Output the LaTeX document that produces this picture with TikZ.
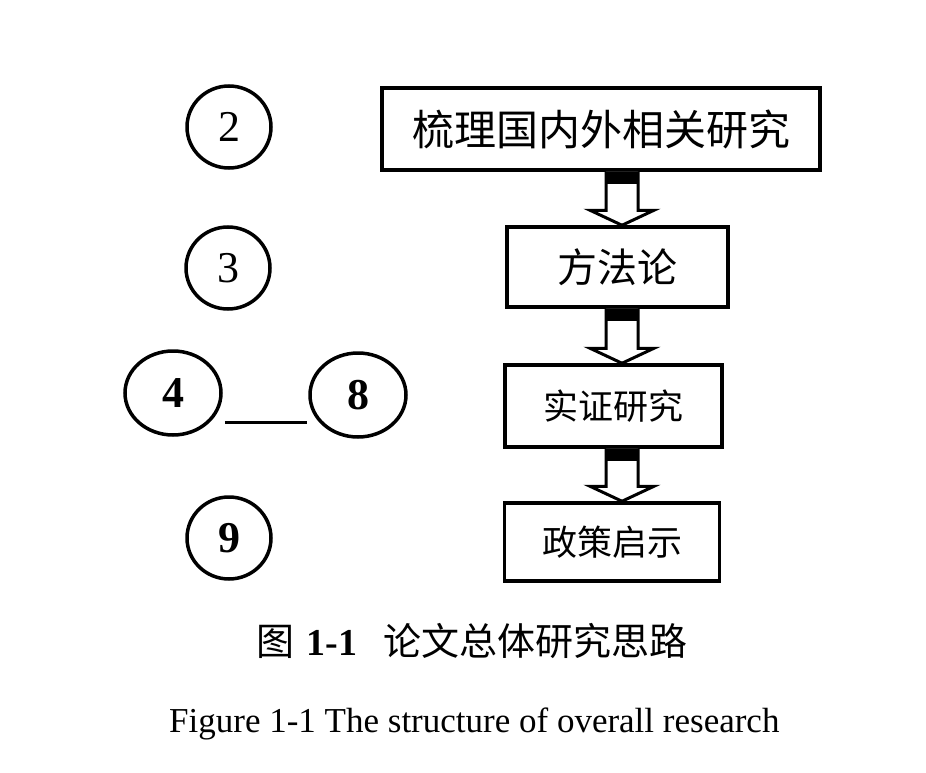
\documentclass[tikz,border=0pt]{standalone}
\usepackage{fontspec}
\setmainfont{Liberation Serif}
\newfontfamily\cjk{Noto Sans CJK SC}
\usetikzlibrary{shapes.geometric,calc}
\tikzset{
  box/.style={draw, line width=3.5pt, inner sep=0pt},
  num/.style={draw, ellipse, line width=3.5pt, inner sep=0pt,
    minimum width=84pt, minimum height=82pt, font=\fontsize{44}{44}\selectfont},
  bignum/.style={num, minimum width=96pt, minimum height=84pt, font=\fontsize{44}{44}\selectfont\bfseries}
}
\begin{document}
\begin{tikzpicture}[x=1pt, y=-1pt]
  \useasboundingbox (0,0) rectangle (926,773);
  % left column
  \node[num] (n2) at (229,127) {2};
  \node[num] (n3) at (228,268) {3};
  \node[bignum] (n4) at (173,393) {4};
  \node[bignum] (n8) at (358,395) {8};
  \node[num, font=\fontsize{44}{44}\selectfont\bfseries] (n9) at (229,538) {9};
  \draw[line width=3pt] ([xshift=2pt, yshift=-29pt]n4.east) -- ([xshift=-1pt, yshift=-27pt]n8.west);
  % right column
  \node[box, minimum width=438pt, minimum height=82pt, font=\cjk\fontsize{42}{42}\selectfont] (lit) at (601,129) {梳理国内外相关研究};
  \node[box, minimum width=221pt, minimum height=80pt, font=\cjk\fontsize{40}{40}\selectfont] (meth) at (617.5,267) {方法论};
  \node[box, minimum width=217pt, minimum height=82pt, font=\cjk\fontsize{35}{35}\selectfont] (emp) at (613.5,406) {实证研究};
  \node[box, minimum width=215pt, minimum height=78pt, font=\cjk\fontsize{35}{35}\selectfont] (pol) at (612,542) {政策启示};
  \coordinate (ax) at (622,0);
  \foreach \a/\b in {lit/meth, meth/emp, emp/pol} {
    \coordinate (t) at (\a.south -| ax);
    \coordinate (h) at (\b.north -| ax);
    \draw[line width=3pt, line join=miter, fill=white]
      ($(t)+(-16,0)$) -- ($(h)+(-16,-15)$) -- ($(h)+(-32,-15)$) -- (h)
      -- ($(h)+(32,-15)$) -- ($(h)+(16,-15)$) -- ($(t)+(16,0)$);
    \fill ($(t)+(-17,0)$) rectangle ($(t)+(17,12)$);
  }
  % captions
  \node[anchor=base, font=\fontsize{38}{38}\selectfont] (capcn) at (472,655)
    {{\cjk 图}\hspace{12pt}\textbf{1-1}\hspace{26pt}{\cjk 论文总体研究思路}};
  \node[anchor=base east, font=\fontsize{35}{35}\selectfont] (capen) at (783,732)
    {Figure 1-1 The structure of overall research};
\end{tikzpicture}
\end{document}
